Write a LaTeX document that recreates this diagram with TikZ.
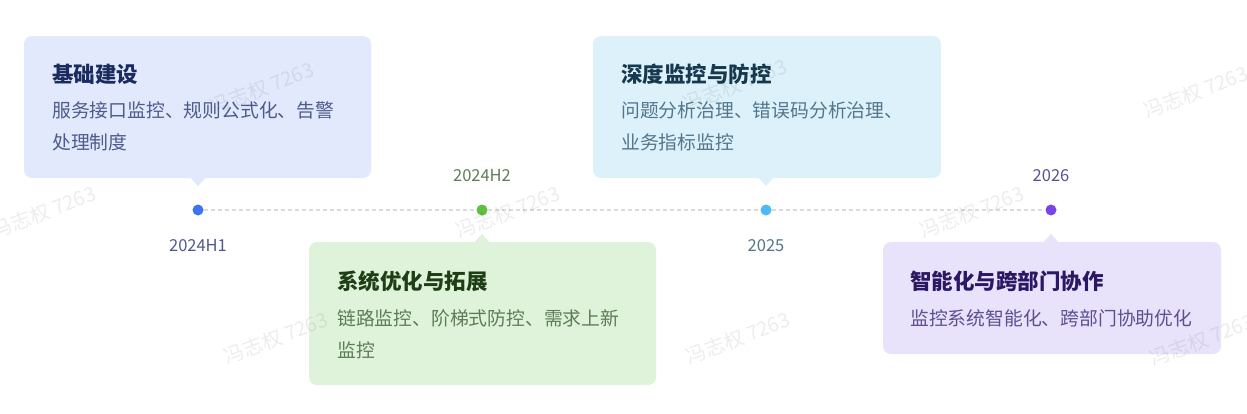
\documentclass[tikz,border=0pt]{standalone}
\usepackage{fontspec}
\setmainfont{Noto Sans CJK SC}
\usetikzlibrary{calc}
\definecolor{bgA}{HTML}{E3E9FC}\definecolor{ttA}{HTML}{1A2B5F}\definecolor{dsA}{HTML}{4D5B8C}\definecolor{dtA}{HTML}{3D74F2}
\definecolor{bgB}{HTML}{DFF3DA}\definecolor{ttB}{HTML}{1E3F16}\definecolor{dsB}{HTML}{5E7C57}\definecolor{dtB}{HTML}{5DC13E}
\definecolor{bgC}{HTML}{DDF1FB}\definecolor{ttC}{HTML}{17394F}\definecolor{dsC}{HTML}{52768C}\definecolor{dtC}{HTML}{4DBBF3}
\definecolor{bgD}{HTML}{E8E3FB}\definecolor{ttD}{HTML}{2B1763}\definecolor{dsD}{HTML}{5C5090}\definecolor{dtD}{HTML}{7A45E6}
\definecolor{tline}{HTML}{D8DBE0}
\begin{document}
\begin{tikzpicture}[x=1pt,y=-1pt,
  card/.style={rounded corners=8pt, inner sep=0pt, draw=none},
  dotnode/.style={circle, inner sep=0pt, minimum size=11pt, draw=none},
  ttl/.style={anchor=base west, inner sep=0pt, font=\fontsize{21.5}{24}\selectfont\bfseries},
  dsc/.style={anchor=base west, inner sep=0pt, font=\fontsize{18.8}{22}\selectfont},
  yearlbl/.style={inner sep=0pt, font=\fontsize{16.5}{18}\selectfont},
  tl/.style={draw=tline, line width=1.5pt, dash pattern=on 4pt off 3pt},
  wm/.style={inner sep=0pt, rotate=21, font=\fontsize{20}{22}\selectfont, text=black, text opacity=0.07}
]
\useasboundingbox (0,0) rectangle (1247,413);

% dots
\node[dotnode, fill=dtA] (d1) at (198,210) {};
\node[dotnode, fill=dtB] (d2) at (482,210) {};
\node[dotnode, fill=dtC] (d3) at (766,210) {};
\node[dotnode, fill=dtD] (d4) at (1051,210) {};
\draw[tl] (d1) -- (d2);
\draw[tl] (d2) -- (d3);
\draw[tl] (d3) -- (d4);

% cards
\node[card, fill=bgA, minimum width=347pt, minimum height=142pt] (b1) at (197.5,107) {};
\node[card, fill=bgB, minimum width=347pt, minimum height=143pt] (b2) at (482.5,313.5) {};
\node[card, fill=bgC, minimum width=348pt, minimum height=142pt] (b3) at (767,107) {};
\node[card, fill=bgD, minimum width=338pt, minimum height=112pt] (b4) at (1052,298) {};

% pointers
\coordinate (p1) at (b1.south -| d1);
\coordinate (p2) at (b2.north -| d2);
\coordinate (p3) at (b3.south -| d3);
\coordinate (p4) at (b4.north -| d4);
\fill[bgA] ($(p1)+(-8,-1)$) -- ($(p1)+(0,8)$) -- ($(p1)+(8,-1)$) -- cycle;
\fill[bgB] ($(p2)+(-8,1)$) -- ($(p2)+(0,-8)$) -- ($(p2)+(8,1)$) -- cycle;
\fill[bgC] ($(p3)+(-8,-1)$) -- ($(p3)+(0,8)$) -- ($(p3)+(8,-1)$) -- cycle;
\fill[bgD] ($(p4)+(-8,1)$) -- ($(p4)+(0,-8)$) -- ($(p4)+(8,1)$) -- cycle;

% year labels
\node[yearlbl, text=dsA] (y1) at (198,246) {2024H1};
\node[yearlbl, text=dsB] (y2) at (482,176) {2024H2};
\node[yearlbl, text=dsC] (y3) at (766,246) {2025};
\node[yearlbl, text=dsD] (y4) at (1051,176) {2026};

% card texts
\node[ttl, text=ttA] (t1) at (52,82) {基础建设};
\node[dsc, text=dsA] (t1a) at (52,117) {服务接口监控、规则公式化、告警};
\node[dsc, text=dsA] (t1b) at (52,149) {处理制度};

\node[ttl, text=ttB] (t2) at (337,289) {系统优化与拓展};
\node[dsc, text=dsB] (t2a) at (337,325) {链路监控、阶梯式防控、需求上新};
\node[dsc, text=dsB] (t2b) at (337,357) {监控};

\node[ttl, text=ttC] (t3) at (621,82) {深度监控与防控};
\node[dsc, text=dsC] (t3a) at (621,117) {问题分析治理、错误码分析治理、};
\node[dsc, text=dsC] (t3b) at (621,149) {业务指标监控};

\node[ttl, text=ttD] (t4) at (910,289) {智能化与跨部门协作};
\node[dsc, text=dsD] (t4a) at (910,325) {监控系统智能化、跨部门协助优化};

% watermarks
\foreach \i/\x/\y in {1/262/88, 2/735/85, 3/1196/92, 4/44/212, 5/508/212, 6/972/212, 7/276/338, 8/738/338, 9/1202/340} {
  \node[wm] (w\i) at (\x,\y) {冯志权 7263};
}
\end{tikzpicture}
\end{document}
